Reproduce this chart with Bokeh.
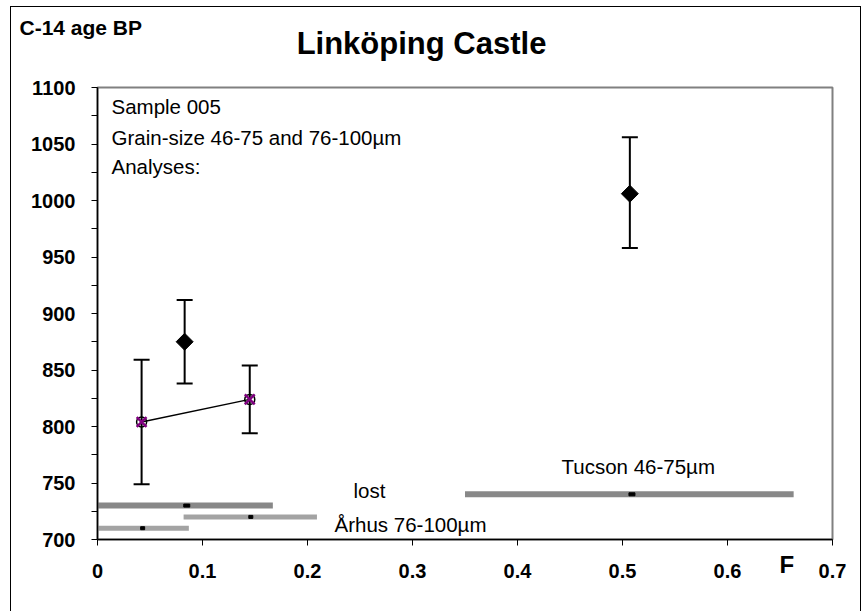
from bokeh.plotting import figure
from bokeh.models import (Range1d, Label, Whisker, TeeHead, ColumnDataSource,
                          FixedTicker, NumeralTickFormatter)
from bokeh.embed import file_html
from bokeh.resources import INLINE

# ---------------- data ----------------
x_ticks = [0, 0.1, 0.2, 0.3, 0.4, 0.5, 0.6, 0.7]
y_ticks = [700, 750, 800, 850, 900, 950, 1000, 1050, 1100]
y_minor = [725, 775, 825, 875, 925, 975, 1025, 1075]

# black diamonds (F, C-14 age, error low, error high)
dia_f = [0.083, 0.507]
dia_age = [875, 1006]
dia_lo = [838, 958]
dia_hi = [912, 1056]

# purple crossed circles, joined by a line
crs_f = [0.042, 0.145]
crs_age = [804, 824]
crs_lo = [749, 794]
crs_hi = [859, 854]

# horizontal F ranges (dark = 46-75, light = 76-100)
dark_y = [730, 740]
dark_f0 = [0.0, 0.350]
dark_f1 = [0.167, 0.663]
dark_mid = [0.085, 0.509]

light_y = [720, 710]
light_f0 = [0.082, 0.0]
light_f1 = [0.209, 0.087]
light_mid = [0.146, 0.043]

title_text = "Linköping Castle"
y_title = "C-14 age BP"
x_title = "F"
info_lines = ["Sample 005", "Grain-size 46-75 and 76-100µm", "Analyses:"]
lbl_lost = "lost"
lbl_arhus = "Århus 76-100µm"
lbl_tucson = "Tucson 46-75µm"

# ---------------- figure ----------------
FONT = "Liberation Sans"

p = figure(width=851, height=605, output_backend="svg", toolbar_location=None,
           title=None, x_range=Range1d(0, 0.7), y_range=Range1d(700, 1100),
           min_border_left=86, min_border_right=30, min_border_top=80,
           min_border_bottom=73)
p.styles = {"position": "absolute", "left": "10px", "top": "6px",
            "border": "1px solid black", "border-bottom": "none"}
p.background_fill_color = "white"
p.border_fill_color = "white"
p.outline_line_color = "#808080"
p.outline_line_width = 2
p.xgrid.visible = False
p.ygrid.visible = False

p.xaxis.ticker = FixedTicker(ticks=x_ticks)
p.xaxis.formatter = NumeralTickFormatter(format="0.[0]")
p.yaxis.ticker = FixedTicker(ticks=y_ticks, minor_ticks=y_minor)
for ax in (p.xaxis, p.yaxis):
    ax.axis_line_color = "black"
    ax.axis_line_width = 1.5
    ax.major_tick_line_color = "black"
    ax.major_tick_line_width = 1
    ax.major_tick_in = 0
    ax.major_tick_out = 6
    ax.minor_tick_line_color = "black"
    ax.minor_tick_in = 0
    ax.minor_tick_out = 6
    ax.major_label_text_font = FONT
    ax.major_label_text_font_style = "bold"
    ax.major_label_text_font_size = "20px"
    ax.major_label_text_color = "black"
p.xaxis.minor_tick_line_color = None
p.xaxis.major_label_standoff = 18
p.yaxis.major_label_standoff = 16

# horizontal range bars
p.segment(x0=dark_f0, y0=dark_y, x1=dark_f1, y1=dark_y,
          line_color="#888888", line_width=6)
p.segment(x0=light_f0, y0=light_y, x1=light_f1, y1=light_y,
          line_color="#a3a3a3", line_width=5)
p.rect(x=dark_mid, y=dark_y, width=6, height=3, width_units="screen",
       height_units="screen", color="black")
p.rect(x=light_mid, y=light_y, width=4, height=3, width_units="screen",
       height_units="screen", color="black")

# error bars
dsrc = ColumnDataSource(dict(f=dia_f, age=dia_age, lo=dia_lo, hi=dia_hi))
csrc = ColumnDataSource(dict(f=crs_f, age=crs_age, lo=crs_lo, hi=crs_hi))
for src in (dsrc, csrc):
    w = Whisker(source=src, base="f", lower="lo", upper="hi", dimension="height",
                line_color="black", line_width=2,
                upper_head=TeeHead(size=16, line_width=2, line_color="black"),
                lower_head=TeeHead(size=16, line_width=2, line_color="black"))
    p.add_layout(w)

# markers
p.scatter(x="f", y="age", source=dsrc, marker="square", angle=0.785398,
          size=12, color="black")
p.line(x=crs_f, y=crs_age, line_color="black", line_width=1.5)
p.scatter(x="f", y="age", source=csrc, marker="circle", size=10,
          fill_color=None, line_color="black", line_width=1.5)
p.scatter(x="f", y="age", source=csrc, marker="x", size=14,
          line_color="#800080", line_width=2.5)

# texts (canvas pixel positions, origin at top-left of the canvas)
def lab(x, y, text, size, bold=False, align="left", place=None):
    l = Label(x=x, y=y, x_units="canvas", y_units="canvas",
              text=text, text_font=FONT, text_font_size=size,
              text_font_style="bold" if bold else "normal",
              text_color="black", text_align=align,
              text_baseline="alphabetic")
    if place is None:
        p.add_layout(l)
    else:
        p.add_layout(l, place)

lab(409, 35, title_text, "31px", bold=True, align="center", place="above")
lab(7, 19, y_title, "21px", bold=True, place="above")
lab(767, 556, x_title, "24px", bold=True, place="below")
for txt, yy in zip(info_lines, [98, 129, 158]):
    lab(99, yy, txt, "20.5px")
lab(341, 482, lbl_lost, "20.5px")
lab(322, 516, lbl_arhus, "20.5px")
lab(549, 458, lbl_tucson, "20.5px")

open("out.html", "w").write(file_html(p, INLINE))
